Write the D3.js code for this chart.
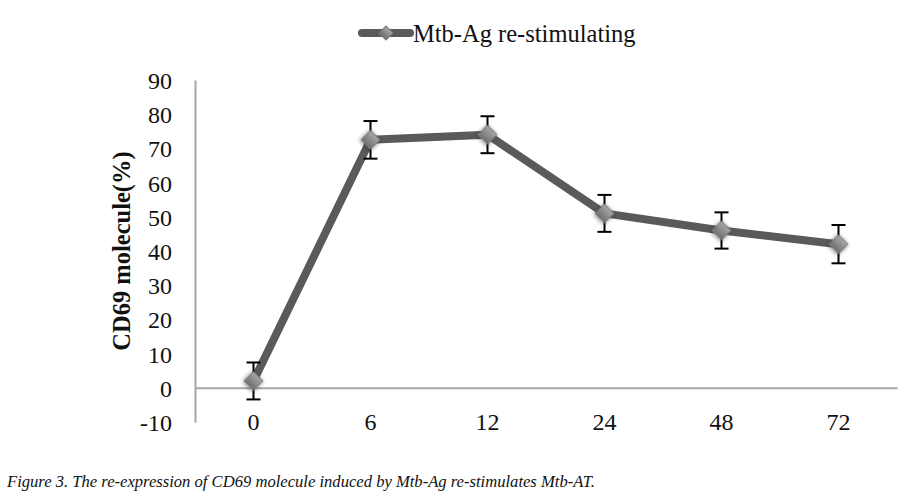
<!DOCTYPE html>
<html><head><meta charset="utf-8">
<script src="https://cdn.jsdelivr.net/npm/d3@7"></script>
<style>body{margin:0;background:#fff}svg{display:block}</style>
</head><body>
<svg id="c" width="912" height="499"></svg>
<script>
const categories = ["0", "6", "12", "24", "48", "72"];
const values = [2, 72.5, 74, 51, 46, 42];
const errors = [5.4, 5.5, 5.4, 5.4, 5.3, 5.6];
const yTicks = [-10, 0, 10, 20, 30, 40, 50, 60, 70, 80, 90];
const seriesName = "Mtb-Ag re-stimulating";
const yLabel = "CD69 molecule(%)";
const caption = "Figure 3. The re-expression of CD69 molecule induced by Mtb-Ag re-stimulates Mtb-AT.";

const svg = d3.select("#c");
const x = d3.scaleBand().domain(categories).range([195, 897]);
const y = d3.scaleLinear().domain([-10, 90]).range([422, 80]);

const defs = svg.append("defs");
const grad = defs.append("linearGradient").attr("id","dg").attr("x1","0").attr("y1","0").attr("x2","0").attr("y2","1");
grad.append("stop").attr("offset","0").attr("stop-color","#a8a8a8");
grad.append("stop").attr("offset","1").attr("stop-color","#6e6e6e");
const flt = defs.append("filter").attr("id","sh").attr("x","-50%").attr("y","-50%").attr("width","200%").attr("height","200%");
flt.append("feGaussianBlur").attr("in","SourceAlpha").attr("stdDeviation","2");
flt.append("feOffset").attr("dx","0").attr("dy","1").attr("result","b");
flt.append("feComponentTransfer").attr("in","b").attr("result","b2").append("feFuncA").attr("type","linear").attr("slope","0.5");
const fm = flt.append("feMerge"); fm.append("feMergeNode").attr("in","b2"); fm.append("feMergeNode").attr("in","SourceGraphic");

const FONT = "Liberation Serif, serif";

// y axis
const yAxis = svg.append("g").attr("transform","translate(195,0)")
  .call(d3.axisLeft(y).tickValues(yTicks).tickSize(0).tickPadding(23).tickFormat(d => String(d)));
yAxis.select(".domain").attr("stroke","#a6a6a6").attr("stroke-width",2);
yAxis.selectAll("text").attr("font-family",FONT).attr("font-size",24).attr("fill","#111").attr("dy","0.35em");

// x axis at 0
const xAxis = svg.append("g").attr("transform",`translate(0,${y(0)})`)
  .call(d3.axisBottom(x).tickSize(0).tickPadding(0));
xAxis.select(".domain").attr("stroke","#a6a6a6").attr("stroke-width",2);
xAxis.selectAll("text").attr("font-family",FONT).attr("font-size",24).attr("fill","#111")
  .attr("y", y(-10) - y(0)).attr("dy","0.35em");

// y label
svg.append("text").attr("transform",`translate(130,${y(40)}) rotate(-90)`)
  .attr("text-anchor","middle").attr("font-family",FONT).attr("font-weight","bold")
  .attr("font-size",24.5).attr("fill","#111").text(yLabel);

const cx = d => x(d) + x.bandwidth()/2;
const data = categories.map((c,i)=>({c, v: values[i], e: errors[i]}));

// line
svg.append("path").datum(data)
  .attr("d", d3.line().x(d=>cx(d.c)).y(d=>y(d.v)))
  .attr("fill","none").attr("stroke","#5a5a5a").attr("stroke-width",8).attr("stroke-linejoin","round");

// error bars
const eb = svg.append("g").attr("stroke","#000").attr("stroke-width",2);
data.forEach(d=>{
  eb.append("line").attr("x1",cx(d.c)).attr("x2",cx(d.c)).attr("y1",y(d.v+d.e)).attr("y2",y(d.v-d.e));
  eb.append("line").attr("x1",cx(d.c)-7).attr("x2",cx(d.c)+7).attr("y1",y(d.v+d.e)).attr("y2",y(d.v+d.e));
  eb.append("line").attr("x1",cx(d.c)-7).attr("x2",cx(d.c)+7).attr("y1",y(d.v-d.e)).attr("y2",y(d.v-d.e));
});

// markers: square rotated 45°
const sq = d3.symbol().type(d3.symbolSquare).size(180);
svg.append("g").selectAll("path").data(data).join("path")
  .attr("d", sq).attr("transform", d=>`translate(${cx(d.c)},${y(d.v)}) rotate(45)`)
  .attr("fill","url(#dg)").attr("stroke","#7a7a7a").attr("stroke-width",1).attr("filter","url(#sh)");

// legend
const lg = svg.append("g");
lg.append("line").attr("x1",362).attr("x2",410).attr("y1",33).attr("y2",33)
  .attr("stroke","#5a5a5a").attr("stroke-width",8).attr("stroke-linecap","round");
lg.append("path").attr("d", d3.symbol().type(d3.symbolSquare).size(100)).attr("transform","translate(386,33) rotate(45)")
  .attr("fill","url(#dg)").attr("stroke","#7a7a7a");
lg.append("text").attr("x",413).attr("y",33).attr("dy","0.35em").attr("font-family",FONT)
  .attr("font-size",24.5).attr("fill","#111").text(seriesName);

// caption
svg.append("text").attr("x",7).attr("y",487).attr("font-family",FONT).attr("font-style","italic")
  .attr("font-size",16.6).attr("fill","#111").text(caption);
</script>
</body></html>
